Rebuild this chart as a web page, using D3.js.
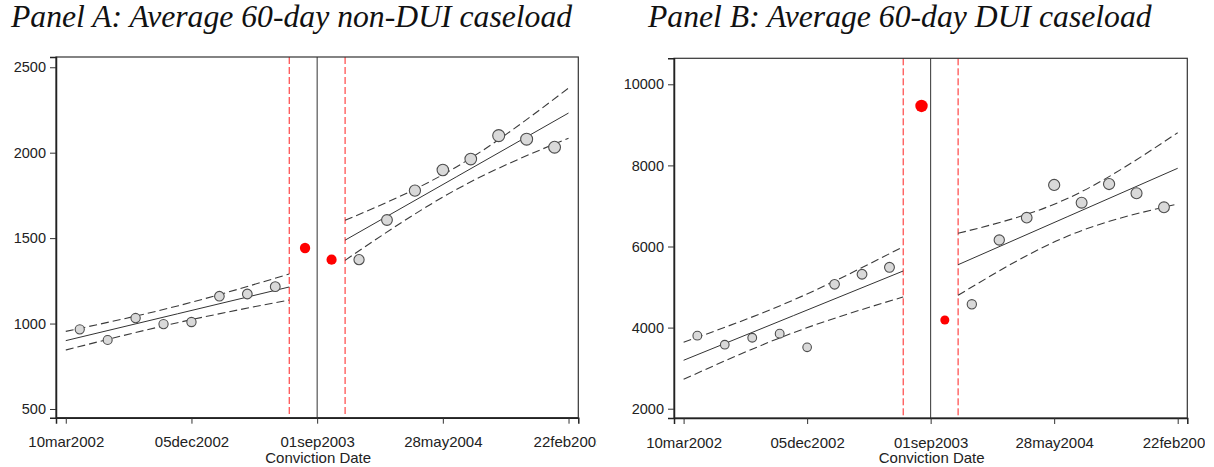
<!DOCTYPE html>
<html>
<head>
<meta charset="utf-8">
<script src="https://cdn.jsdelivr.net/npm/d3@7"></script>
<style>
  html, body { margin: 0; padding: 0; background: #fff; }
  svg { display: block; }
  .tick text { font-family: "Liberation Sans", Arial, sans-serif; fill: #222; }
</style>
</head>
<body>
<svg id="chart"></svg>
<script>
// Bins are 60 days wide, placed by offset (days) from the 01sep2003 cutoff.
const cutoffDate = '2003-09-01';
const binDaysLeft = [-510, -450, -390, -330, -270, -210, -150, -90];
const binDaysRight = [90, 150, 210, 270, 330, 390, 450, 510];
// Donut-period points sit at their own mean dates.
const nonDuiDonutDays = [-26, 31];
const duiDonutDays = [-20, 31];

// Fitted lines and 95% bands, read at three dates per side.
const fitDaysLeft = [-540, -300, -60];
const fitDaysRight = [60, 300, 540];

const xTickDates = ['2002-03-10', '2002-12-05', '2003-09-01', '2004-05-28', '2005-02-22'];
const xTickLabels = ['10mar2002', '05dec2002', '01sep2003', '28may2004', '22feb2005'];

// Panel A: non-DUI caseload
const nonDuiLeft = [966, 904, 1032, 997, 1009, 1160, 1173, 1216];
const nonDuiDonut = [1442, 1374];
const nonDuiRight = [1374, 1606, 1778, 1899, 1963, 2100, 2079, 2032];
const nonDuiFitLeft = [900, 1057, 1214];
const nonDuiHiLeft = [954, 1103, 1290];
const nonDuiLoLeft = [845, 1005, 1138];
const nonDuiFitRight = [1488, 1860, 2232];
const nonDuiHiRight = [1604, 1918, 2378];
const nonDuiLoRight = [1370, 1786, 2085];
const nonDuiYTicks = [500, 1000, 1500, 2000, 2500];

// Panel B: DUI caseload
const duiLeft = [3801, 3579, 3751, 3850, 3514, 5068, 5315, 5487];
const duiDonut = [9465, 4188];
const duiRight = [4575, 6160, 6710, 7517, 7080, 7541, 7312, 6967];
const duiFitLeft = [3194, 4295, 5396];
const duiHiLeft = [3638, 4680, 5995];
const duiLoLeft = [2725, 3875, 4755];
const duiFitRight = [5551, 6740, 7929];
const duiHiRight = [6326, 7189, 8807];
const duiLoRight = [4797, 6259, 7048];
const duiYTicks = [2000, 4000, 6000, 8000, 10000];

const width = 1214;
const height = 467;

const cutoff = new Date(cutoffDate);
const dayMs = 864e5;
const day = (n) => new Date(cutoff.getTime() + n * dayMs);

const svg = d3.select('#chart')
  .attr('width', width)
  .attr('height', height)
  .attr('viewBox', [0, 0, width, height]);

function drawPanel(cfg) {
  const clipId = 'clip-' + cfg.id;
  svg.append('clipPath')
    .attr('id', clipId)
    .append('rect')
    .attr('x', cfg.clip[0])
    .attr('y', 0)
    .attr('width', cfg.clip[1] - cfg.clip[0])
    .attr('height', height);

  const g = svg.append('g').attr('clip-path', `url(#${clipId})`);

  const x = d3.scaleUtc()
    .domain([day(-561), day(561)])
    .range([cfg.left, cfg.right]);

  const y = d3.scaleLinear()
    .domain(cfg.yDomain)
    .range([cfg.bottom, cfg.top]);

  const allGray = cfg.left8.concat(cfg.right8);
  const r = d3.scaleLinear()
    .domain(d3.extent(allGray.concat(cfg.donut)))
    .range(cfg.rRange);

  // Title
  g.append('text')
    .attr('x', cfg.titleX)
    .attr('y', 27)
    .attr('font-family', '"Liberation Serif", "Times New Roman", serif')
    .attr('font-style', 'italic')
    .attr('font-size', 31.7)
    .attr('fill', '#111')
    .text(cfg.title);

  // Donut boundaries and cutoff
  g.append('g')
    .selectAll('line')
    .data([-60, 60])
    .join('line')
    .attr('x1', (d) => x(day(d)))
    .attr('x2', (d) => x(day(d)))
    .attr('y1', cfg.top)
    .attr('y2', cfg.bottom)
    .attr('stroke', '#ff2020')
    .attr('stroke-width', 1)
    .attr('stroke-dasharray', '7,3');

  g.append('line')
    .attr('x1', x(cutoff))
    .attr('x2', x(cutoff))
    .attr('y1', cfg.top)
    .attr('y2', cfg.bottom)
    .attr('stroke', '#333')
    .attr('stroke-width', 1);

  // Fit lines and confidence bands
  const line = d3.line()
    .x((d) => x(day(d[0])))
    .y((d) => y(d[1]))
    .curve(d3.curveNatural);

  const sides = [
    [fitDaysLeft, cfg.fitL, cfg.hiL, cfg.loL],
    [fitDaysRight, cfg.fitR, cfg.hiR, cfg.loR]
  ];
  sides.forEach(([days, fit, hi, lo]) => {
    [hi, lo].forEach((band) => {
      g.append('path')
        .datum(d3.zip(days, band))
        .attr('fill', 'none')
        .attr('stroke', '#3a3a3a')
        .attr('stroke-width', 1.1)
        .attr('stroke-dasharray', '8,4')
        .attr('d', line);
    });
    g.append('path')
      .datum(d3.zip(days, fit))
      .attr('fill', 'none')
      .attr('stroke', '#333')
      .attr('stroke-width', 1)
      .attr('d', line);
  });

  // Binned means
  const grayPts = d3.zip(binDaysLeft.concat(binDaysRight), allGray);
  g.append('g')
    .selectAll('circle')
    .data(grayPts)
    .join('circle')
    .attr('cx', (d) => x(day(d[0])))
    .attr('cy', (d) => y(d[1]))
    .attr('r', (d) => r(d[1]))
    .attr('fill', '#d9d9d9')
    .attr('stroke', '#4d4d4d')
    .attr('stroke-width', 1.1);

  g.append('g')
    .selectAll('circle')
    .data(d3.zip(cfg.donutDays, cfg.donut))
    .join('circle')
    .attr('cx', (d) => x(day(d[0])))
    .attr('cy', (d) => y(d[1]))
    .attr('r', (d) => r(d[1]))
    .attr('fill', '#ff0000');

  // Frame
  g.append('rect')
    .attr('x', cfg.left)
    .attr('y', cfg.top)
    .attr('width', cfg.right - cfg.left)
    .attr('height', cfg.bottom - cfg.top)
    .attr('fill', 'none')
    .attr('stroke', '#333')
    .attr('stroke-width', 1.2);

  // Y axis
  g.append('g')
    .attr('transform', `translate(${cfg.left},0)`)
    .call(d3.axisLeft(y)
      .tickValues(cfg.yTicks)
      .tickFormat(d3.format('d'))
      .tickSize(6)
      .tickPadding(4))
    .call((a) => a.select('.domain').attr('stroke', '#222').attr('stroke-width', 1.5))
    .call((a) => a.selectAll('.tick line').attr('stroke', '#333'))
    .call((a) => a.selectAll('.tick text').attr('font-size', 14.5));

  // X axis
  const tickDates = xTickDates.map((s) => new Date(s));
  g.append('g')
    .attr('transform', `translate(0,${cfg.bottom})`)
    .call(d3.axisBottom(x)
      .tickValues(tickDates)
      .tickFormat((d, i) => xTickLabels[i])
      .tickSize(6)
      .tickPadding(13))
    .call((a) => a.select('.domain').attr('stroke', '#222').attr('stroke-width', 1.5))
    .call((a) => a.selectAll('.tick line').attr('stroke', '#333'))
    .call((a) => a.selectAll('.tick text').attr('font-size', 15));

  g.append('text')
    .attr('x', x(cutoff) + 1)
    .attr('y', 462.5)
    .attr('text-anchor', 'middle')
    .attr('font-family', '"Liberation Sans", Arial, sans-serif')
    .attr('font-size', 15)
    .attr('fill', '#222')
    .text('Conviction Date');
}

drawPanel({
  id: 'a',
  title: 'Panel A: Average 60-day non-DUI caseload',
  titleX: 11,
  clip: [0, 597],
  left: 56, right: 578.3, top: 57, bottom: 417.7,
  yDomain: [449, 2560],
  yTicks: nonDuiYTicks,
  rRange: [4.5, 6],
  left8: nonDuiLeft, right8: nonDuiRight,
  donut: nonDuiDonut, donutDays: nonDuiDonutDays,
  fitL: nonDuiFitLeft, hiL: nonDuiHiLeft, loL: nonDuiLoLeft,
  fitR: nonDuiFitRight, hiR: nonDuiHiRight, loR: nonDuiLoRight
});

drawPanel({
  id: 'b',
  title: 'Panel B: Average 60-day DUI caseload',
  titleX: 648,
  clip: [600, 1205],
  left: 674, right: 1187.3, top: 58.3, bottom: 418,
  yDomain: [1771, 10641],
  yTicks: duiYTicks,
  rRange: [4.3, 6.2],
  left8: duiLeft, right8: duiRight,
  donut: duiDonut, donutDays: duiDonutDays,
  fitL: duiFitLeft, hiL: duiHiLeft, loL: duiLoLeft,
  fitR: duiFitRight, hiR: duiHiRight, loR: duiLoRight
});
</script>
</body>
</html>
